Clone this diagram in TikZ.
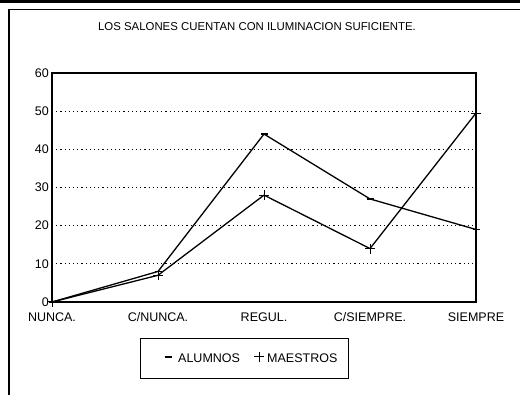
\documentclass[tikz,border=0pt]{standalone}
\usepackage{fontspec}
\setmainfont{Liberation Sans}
\begin{document}
\begin{tikzpicture}[x=1pt,y=-1pt,
  lbl/.style={font=\fontsize{12.5}{14}\selectfont, inner sep=0pt},
  ser/.style={line width=1.3pt, line join=round},
  gridln/.style={dash pattern=on 1.2pt off 3pt, line width=0.8pt},
  frameln/.style={line width=1.4pt},
  pics/plusmark/.style={code={\draw[line width=1pt] (-5,0)--(5,0) (0,-5)--(0,5);}},
  pics/dashmark/.style={code={\draw[line width=1.5pt] (-3.5,0)--(3.5,0);}}]
\useasboundingbox (0,0) rectangle (520,395);
% outer frame
\draw[line width=2.5pt] (0,1.5) -- (520,1.5);
\draw[frameln] (9,395) -- (9,9.5) -- (520,9.5);
% title
\node[font=\fontsize{11.4}{13}\selectfont, inner sep=0pt] (title) at (257,27) {LOS SALONES CUENTAN CON ILUMINACION SUFICIENTE.};
% plot area
\coordinate (pll) at (52,302);
\coordinate (pur) at (476,73);
\foreach \v in {10,20,30,40,50}
  \draw[gridln] (52,{302-3.817*\v}) -- (476,{302-3.817*\v});
\draw[line width=1.3pt] (pll) rectangle (pur);
% y labels
\foreach \v in {0,10,20,30,40,50,60}
  \node[lbl, anchor=east] (y\v) at (49,{302-3.817*\v}) {\v};
% x labels
\foreach \t [count=\i from 0] in {NUNCA.,C/NUNCA.,REGUL.,C/SIEMPRE.,SIEMPRE}
  \node[lbl] (x\i) at ({52+106*\i},317) {\t};
% data
\foreach \v [count=\i from 0] in {0,8,44,27,19}
  \coordinate (a\i) at ({52+106*\i},{302-3.817*\v});
\foreach \v [count=\i from 0] in {0,7,28,14,49.5}
  \coordinate (m\i) at ({52+106*\i},{302-3.817*\v});
\draw[ser] (a0) -- (a1) -- (a2) -- (a3) -- (a4);
\draw[ser] (m0) -- (m1) -- (m2) -- (m3) -- (m4);
\foreach \i in {0,...,4} {
  \pic at (a\i) {dashmark};
  \pic at (m\i) {plusmark};
}
% legend
\node[draw, line width=1pt, minimum width=208pt, minimum height=40pt, inner sep=0pt] (leg) at (244,359) {};
\pic at (168,357) {dashmark};
\node[lbl, anchor=west] (legA) at (178,358) {ALUMNOS};
\pic at (259,357) {plusmark};
\node[lbl, anchor=west] (legM) at (267,358) {MAESTROS};
\end{tikzpicture}
\end{document}
